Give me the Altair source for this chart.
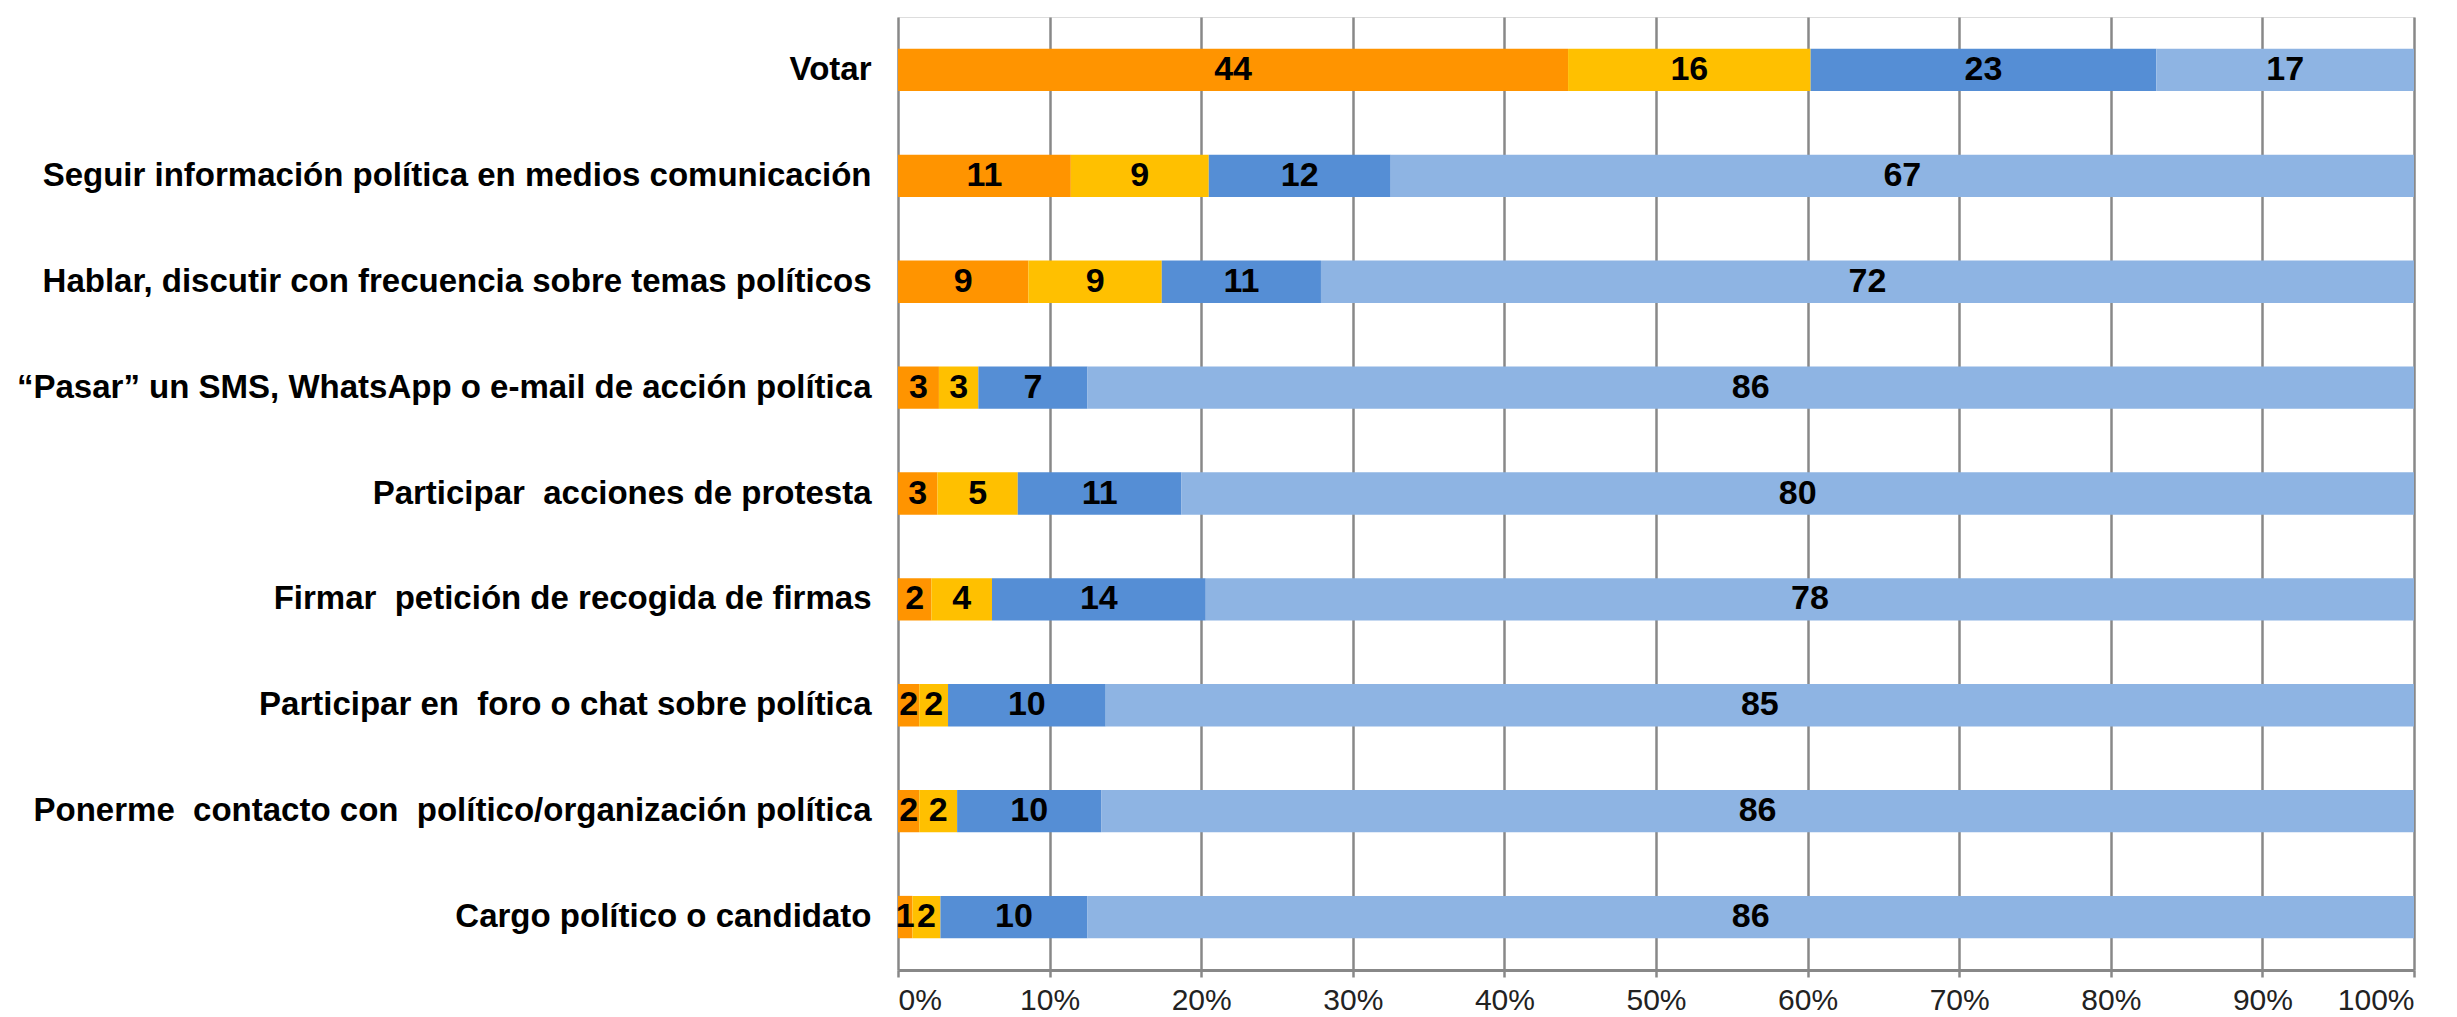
import altair as alt
import pandas as pd

tasks = [
    "Votar",
    "Seguir información política en medios comunicación",
    "Hablar, discutir con frecuencia sobre temas políticos",
    "“Pasar” un SMS, WhatsApp o e-mail de acción política",
    "Participar\u00a0 acciones de protesta",
    "Firmar\u00a0 petición de recogida de firmas",
    "Participar en\u00a0 foro o chat sobre política",
    "Ponerme\u00a0 contacto con\u00a0 político/organización política",
    "Cargo político o candidato",
]
categories = ["c1", "c2", "c3", "c4"]
colors = ["#FF9400", "#FFC000", "#558ED5", "#8EB4E3"]

# segment widths (percent)
seg1 = [44.2, 11.4, 8.6, 2.7, 2.6, 2.2, 1.4, 1.4, 0.95]
seg2 = [16.0, 9.1, 8.8, 2.6, 5.3, 4.0, 1.9, 2.5, 1.85]
seg3 = [22.8, 12.0, 10.5, 7.2, 10.8, 14.1, 10.4, 9.5, 9.7]
seg4 = [17.0, 67.5, 72.1, 87.5, 81.3, 79.7, 86.3, 86.6, 87.5]

# printed labels
lab1 = [44, 11, 9, 3, 3, 2, 2, 2, 1]
lab2 = [16, 9, 9, 3, 5, 4, 2, 2, 2]
lab3 = [23, 12, 11, 7, 11, 14, 10, 10, 10]
lab4 = [17, 67, 72, 86, 80, 78, 85, 86, 86]

rows = []
for segs, labs, k in zip([seg1, seg2, seg3, seg4], [lab1, lab2, lab3, lab4], range(4)):
    for t, v, l in zip(tasks, segs, labs):
        rows.append({"task": t, "cat": categories[k], "order": k, "value": v, "label": str(l)})
df = pd.DataFrame(rows)

FONT = "Liberation Sans, Arial, sans-serif"

base = alt.Chart(df).transform_stack(
    stack="value", groupby=["task"], sort=[alt.SortField("order")],
    as_=["x0", "x1"], offset="normalize"
).transform_calculate(mid="(datum.x0 + datum.x1) / 2")

yenc = alt.Y("task:N", sort=tasks, title=None,
             scale=alt.Scale(paddingInner=0.6, paddingOuter=0.3),
             axis=alt.Axis(ticks=False, domain=False, grid=False, labelPadding=27,
                           labelFont=FONT, labelFontSize=33, labelFontWeight="bold",
                           labelColor="#000000", labelLimit=1000))

bars = base.mark_bar().encode(
    y=yenc,
    x=alt.X("x0:Q", scale=alt.Scale(domain=[0, 1]), title=None,
            axis=alt.Axis(format="%", values=[i / 10 for i in range(11)],
                          grid=True, gridColor="#888888", gridWidth=2.5,
                          domainColor="#888888", domainWidth=3,
                          tickColor="#888888", tickWidth=2.5, tickSize=7,
                          labelPadding=8, labelFont=FONT, labelFontSize=30,
                          labelColor="#222222")),
    x2="x1:Q",
    color=alt.Color("cat:N", scale=alt.Scale(domain=categories, range=colors), legend=None),
)

text = base.mark_text(font=FONT, fontSize=34, fontWeight="bold", color="#000000",
                      baseline="middle", align="center").encode(
    y=alt.Y("task:N", sort=tasks),
    x=alt.X("mid:Q"),
    text="label:N",
)

chart = (bars + text).properties(
    width=1516, height=953,
    autosize=alt.AutoSizeParams(type="none"),
    padding={"left": 890, "top": 9, "right": 30, "bottom": 47},
).configure_view(strokeWidth=0).configure(background="white")

chart.save("out.html", embed_options={"renderer": "svg", "actions": False})
